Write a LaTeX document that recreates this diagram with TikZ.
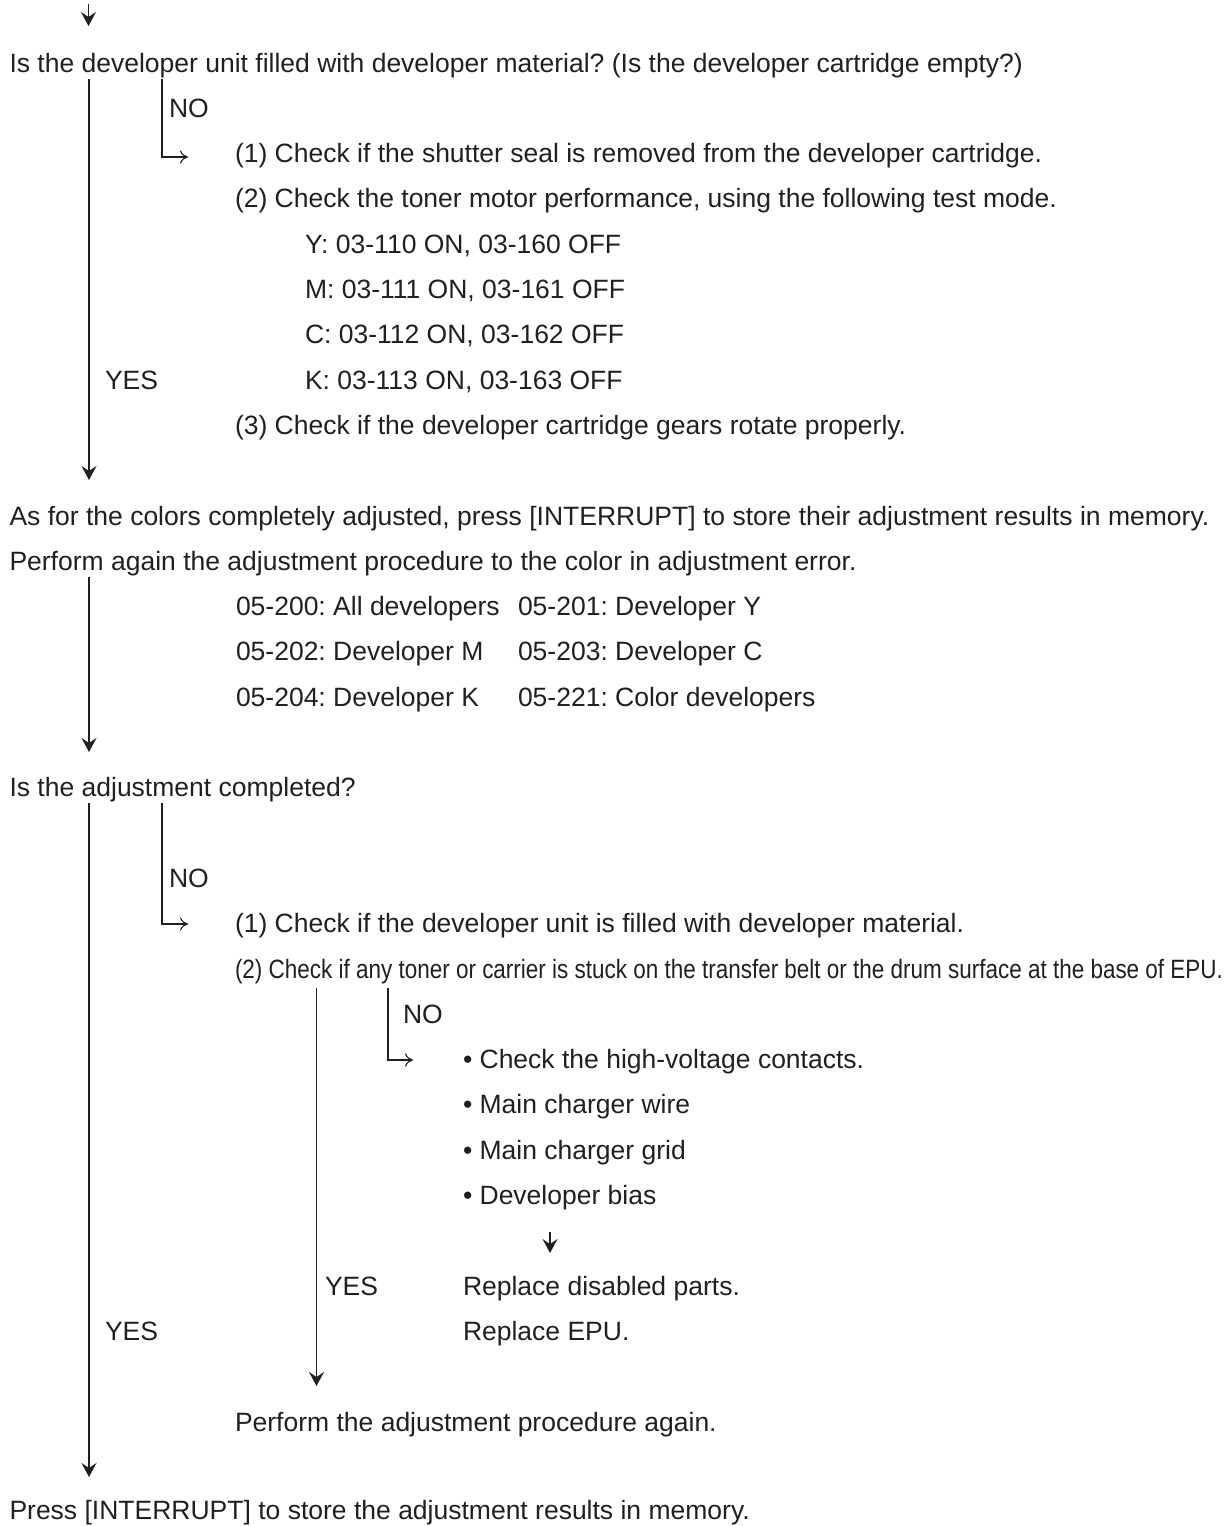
\documentclass[tikz,border=0pt]{standalone}
\usepackage{fontspec}
\usepackage{graphicx}
\setmainfont{Liberation Sans}
\usetikzlibrary{arrows.meta}
\definecolor{ink}{HTML}{231F20}
\frenchspacing
\tikzset{
  txt/.style={anchor=base west, inner sep=0pt, outer sep=0pt, text=ink, font=\fontsize{26.5}{30}\selectfont},
  flow/.style={draw=ink, line width=1.3pt, arrows={-Stealth[length=14pt,width=15pt,inset=5pt]}},
  branch/.style={draw=ink, line width=1.1pt, arrows={-To[length=8pt,width=13pt]}}
}
\begin{document}
\begin{tikzpicture}[x=1pt,y=-1pt]
\useasboundingbox (0,0) rectangle (1229,1526);
% top arrow
\coordinate (t0) at (88.5,4);
\coordinate (t1) at (88.5,26);
\draw[flow] (t0) -- (t1);

% block 1
\node[txt] (q1) at (9.5,72) {Is the developer unit filled with developer material? (Is the developer cartridge empty?)};
\node[txt] (no1) at (169,117.3) {NO};
\node[txt] (c11) at (235,162.6) {(1) Check if the shutter seal is removed from the developer cartridge.};
\node[txt] (c12) at (235,207.9) {(2) Check the toner motor performance, using the following test mode.};
\node[txt] (ty) at (305,253.2) {Y: 03-110 ON, 03-160 OFF};
\node[txt] (tm) at (305,298.5) {M: 03-111 ON, 03-161 OFF};
\node[txt] (tc) at (305,343.8) {C: 03-112 ON, 03-162 OFF};
\node[txt] (tk) at (305,389.1) {K: 03-113 ON, 03-163 OFF};
\node[txt] (yes1) at (105,389.1) {YES};
\node[txt] (c13) at (235,434.4) {(3) Check if the developer cartridge gears rotate properly.};

\coordinate (a1s) at (89,79);
\coordinate (a1e) at (89,480);
\draw[flow] (a1s) -- (a1e);
\coordinate (n1s) at (162,79);
\coordinate (n1e) at (188,157);
\draw[branch] (n1s) |- (n1e);

% block 2
\node[txt] (as) at (9.5,525) {As for the colors completely adjusted, press [INTERRUPT] to store their adjustment results in memory.};
\node[txt] (pa) at (9.5,570.3) {Perform again the adjustment procedure to the color in adjustment error.};
\node[txt] (m200) at (236,615.6) {05-200: All developers};
\node[txt] (m201) at (518,615.6) {05-201: Developer Y};
\node[txt] (m202) at (236,660.9) {05-202: Developer M};
\node[txt] (m203) at (518,660.9) {05-203: Developer C};
\node[txt] (m204) at (236,706.2) {05-204: Developer K};
\node[txt] (m221) at (518,706.2) {05-221: Color developers};
\coordinate (a2s) at (89,577);
\coordinate (a2e) at (89,752);
\draw[flow] (a2s) -- (a2e);

% block 3
\node[txt] (q3) at (9.5,796.8) {Is the adjustment completed?};
\node[txt] (no2) at (169,887.4) {NO};
\node[txt] (c31) at (235,932.7) {(1) Check if the developer unit is filled with developer material.};
\node[txt] (c32) at (235,978) {\resizebox{988pt}{\height}{(2) Check if any toner or carrier is stuck on the transfer belt or the drum surface at the base of EPU.}};
\node[txt] (no3) at (403,1023.3) {NO};
\node[txt] (b1) at (463,1068.6) {• Check the high-voltage contacts.};
\node[txt] (b2) at (463,1113.9) {• Main charger wire};
\node[txt] (b3) at (463,1159.2) {• Main charger grid};
\node[txt] (b4) at (463,1204.5) {• Developer bias};
\node[txt] (yes2) at (325,1295.1) {YES};
\node[txt] (rd) at (463,1295.1) {Replace disabled parts.};
\node[txt] (yes3) at (105,1340.4) {YES};
\node[txt] (re) at (463,1340.4) {Replace EPU.};
\node[txt] (pr) at (235,1431) {Perform the adjustment procedure again.};
\node[txt] (pi) at (9.5,1519) {Press [INTERRUPT] to store the adjustment results in memory.};

\coordinate (a3s) at (89,803);
\coordinate (a3e) at (89,1477);
\draw[flow] (a3s) -- (a3e);
\coordinate (n2s) at (162,803);
\coordinate (n2e) at (188,924);
\draw[branch] (n2s) |- (n2e);
\coordinate (a4s) at (316.5,988);
\coordinate (a4e) at (316.5,1386);
\draw[flow] (a4s) -- (a4e);
\coordinate (n3s) at (388,988);
\coordinate (n3e) at (413,1060);
\draw[branch] (n3s) |- (n3e);
\coordinate (s0) at (550,1232);
\coordinate (s1) at (550,1253);
\draw[flow] (s0) -- (s1);
\end{tikzpicture}
\end{document}
